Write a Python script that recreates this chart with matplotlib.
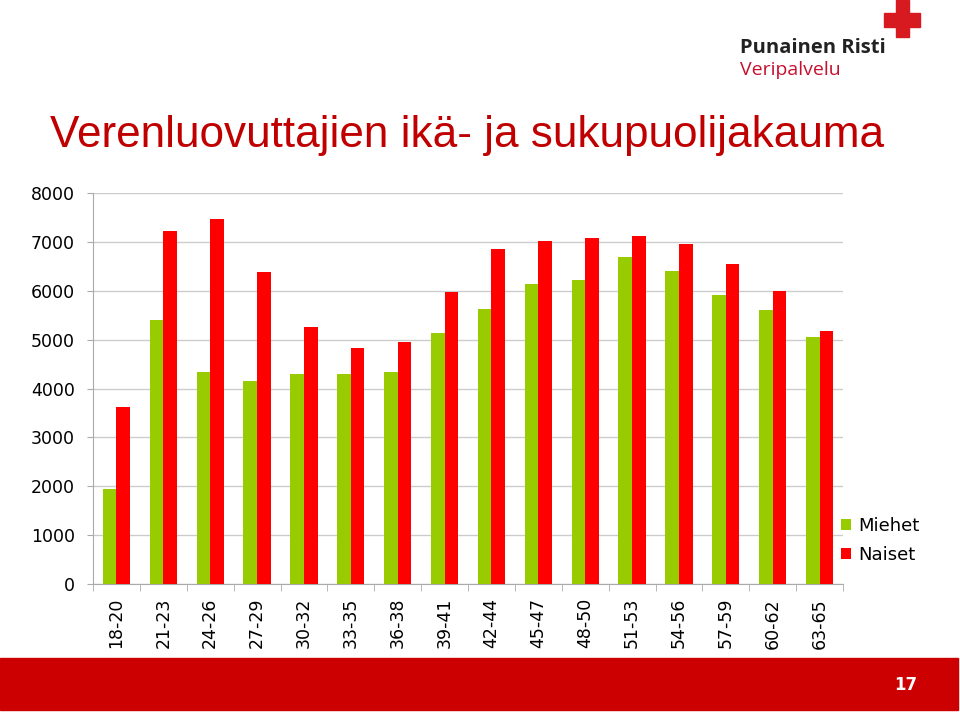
import numpy as np
import matplotlib.pyplot as plt
from matplotlib.patches import Rectangle

ages = ['18-20', '21-23', '24-26', '27-29', '30-32', '33-35', '36-38', '39-41',
        '42-44', '45-47', '48-50', '51-53', '54-56', '57-59', '60-62', '63-65']
miehet = [1950, 5410, 4340, 4160, 4300, 4300, 4330, 5140,
          5630, 6130, 6210, 6690, 6410, 5920, 5600, 5050]
naiset = [3620, 7220, 7460, 6380, 5250, 4830, 4950, 5970,
          6860, 7010, 7070, 7130, 6960, 6540, 5990, 5170]
yticks = [0, 1000, 2000, 3000, 4000, 5000, 6000, 7000, 8000]

W, H = 960, 714
fig = plt.figure(figsize=(W / 100, H / 100), dpi=100)

# plot area in pixels: x 93..843, y 193..584
ax = fig.add_axes([93 / W, 1 - 584 / H, 750 / W, 391 / H])
x = np.arange(len(ages))
bw = 0.29
ax.bar(x - bw / 2, miehet, bw, color='#99CC00', label='Miehet', zorder=3)
ax.bar(x + bw / 2, naiset, bw, color='#FF0000', label='Naiset', zorder=3)

ax.set_xlim(-0.5, len(ages) - 0.5)
ax.set_ylim(0, 8000)
ax.set_yticks(yticks)
ax.set_yticklabels([str(v) for v in yticks], fontsize=12.5, family='DejaVu Sans')
ax.set_xticks(x)
ax.set_xticklabels(ages, rotation=90, fontsize=12.5, family='DejaVu Sans')
ax.tick_params(axis='x', length=0, pad=10)
ax.set_xticks(np.arange(-0.5, len(ages)), minor=True)
ax.tick_params(axis='x', which='minor', length=5, color='#AAAAAA')
ax.tick_params(axis='y', length=4.3, color='#AAAAAA', pad=8.6)
ax.grid(axis='y', color='#CCCCCC', linewidth=1, zorder=0)
for s in ['top', 'right']:
    ax.spines[s].set_visible(False)
ax.spines['left'].set_color('#AAAAAA')
ax.spines['bottom'].set_color('#AAAAAA')

leg = ax.legend(loc='upper left', bbox_to_anchor=(0.997, 0.172), frameon=False,
                prop={'family': 'DejaVu Sans', 'size': 13},
                handlelength=0.55, handleheight=0.55, handletextpad=0.4,
                labelspacing=0.6, borderaxespad=0, borderpad=0)

# title
fig.text(50 / W, 1 - 135 / H, 'Verenluovuttajien ikä- ja sukupuolijakauma',
         fontsize=31.8, color='#C00000', family='Liberation Sans', va='center')

# logo
cross = '#D71920'
fig.patches.append(Rectangle((884 / W, 1 - 27 / H), 36 / W, 14 / H,
                             transform=fig.transFigure, color=cross))
fig.patches.append(Rectangle((896 / W, 1 - 37 / H), 13 / W, 37 / H,
                             transform=fig.transFigure, color=cross))
fig.text(740 / W, 1 - 48 / H, 'Punainen Risti', fontsize=14.5, fontweight='bold',
         color='#222222', family='Open Sans', va='center')
fig.text(740 / W, 1 - 70 / H, 'Veripalvelu', fontsize=14,
         color='#C8102E', family='Open Sans', va='center')

# footer band
fig.patches.append(Rectangle((0, 1 - 710 / H), 958 / W, 52 / H,
                             transform=fig.transFigure, color='#CC0000'))
fig.text(906 / W, 1 - 685 / H, '17', fontsize=12, fontweight='bold',
         color='white', ha='center', va='center')

fig.savefig('out.png', dpi=100)
